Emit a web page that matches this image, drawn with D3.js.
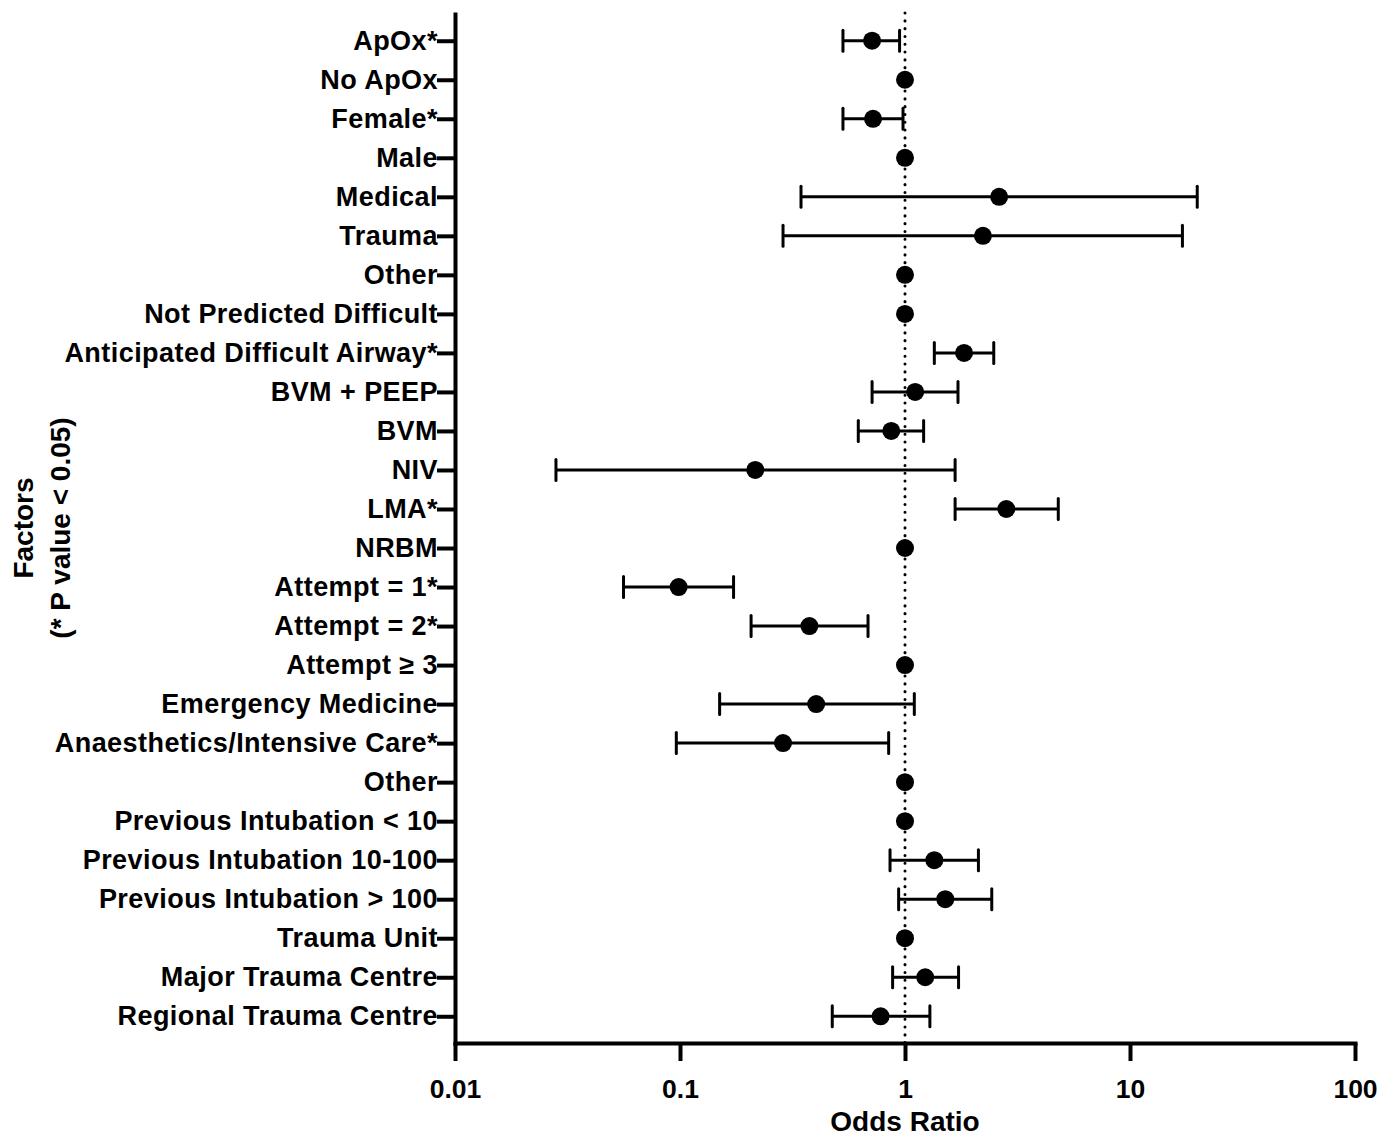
<!DOCTYPE html>
<html>
<head>
<meta charset="utf-8">
<script src="https://cdn.jsdelivr.net/npm/d3@7"></script>
<style>
  body { margin: 0; background: #fff; }
  text { font-family: "Liberation Sans", Arial, sans-serif; font-weight: bold; fill: #000; }
</style>
</head>
<body>
<svg id="chart"></svg>
<script>
const factors = [
    "ApOx*", "No ApOx", "Female*", "Male", "Medical", "Trauma", "Other",
    "Not Predicted Difficult", "Anticipated Difficult Airway*", "BVM + PEEP", "BVM",
    "NIV", "LMA*", "NRBM", "Attempt = 1*", "Attempt = 2*", "Attempt \u2265 3",
    "Emergency Medicine", "Anaesthetics/Intensive Care*", "Other",
    "Previous Intubation < 10", "Previous Intubation 10-100", "Previous Intubation > 100",
    "Trauma Unit", "Major Trauma Centre", "Regional Trauma Centre"
];
const oddsRatio = [
    0.714, 1, 0.721, 1, 2.62, 2.22, 1,
    1, 1.83, 1.11, 0.869,
    0.216, 2.82, 1, 0.0986, 0.376, 1,
    0.403, 0.287, 1,
    1, 1.35, 1.51,
    1, 1.23, 0.779
];
const ciLower = [
    0.530, null, 0.530, null, 0.345, 0.287, null,
    null, 1.35, 0.714, 0.620,
    0.0281, 1.67, null, 0.0561, 0.207, null,
    0.150, 0.0963, null,
    null, 0.858, 0.937,
    null, 0.881, 0.475
];
const ciUpper = [
    0.946, null, 0.98, null, 19.9, 17.1, null,
    null, 2.48, 1.72, 1.21,
    1.67, 4.80, null, 0.173, 0.685, null,
    1.10, 0.846, null,
    null, 2.12, 2.43,
    null, 1.73, 1.29
];
const xTicks = [0.01, 0.1, 1, 10, 100];
const xTickLabels = ["0.01", "0.1", "1", "10", "100"];

const margin = { top: 14, right: 23, bottom: 94, left: 455 };
const width = 1378 - margin.left - margin.right;
const height = 1137 - margin.top - margin.bottom;

const root = d3.select("#chart")
    .attr("width", 1378)
    .attr("height", 1137);

root.append("rect").attr("width", 1378).attr("height", 1137).attr("fill", "#fff");

const svg = root.append("g")
    .attr("transform", `translate(${margin.left}, ${margin.top})`);

const x = d3.scaleLog().domain([0.01, 100]).range([0, width]);
const y = d3.scalePoint()
    .domain(d3.range(factors.length))
    .range([0, height])
    .padding(0.685);

// reference line at OR = 1
svg.append("line")
    .attr("x1", x(1)).attr("x2", x(1))
    .attr("y1", -1).attr("y2", height)
    .attr("stroke", "#000")
    .attr("stroke-width", 3)
    .attr("stroke-linecap", "round")
    .attr("stroke-dasharray", "0.1,7.7");

// x axis
const xAxis = d3.axisBottom(x)
    .tickValues(xTicks)
    .tickFormat((d, i) => xTickLabels[i])
    .tickSize(18)
    .tickSizeOuter(0)
    .tickPadding(18);

const gx = svg.append("g")
    .attr("transform", `translate(0, ${height})`)
    .call(xAxis);
gx.select(".domain").attr("stroke-width", 4).attr("stroke-linecap", "square");
gx.selectAll(".tick line").attr("stroke-width", 4);
gx.selectAll(".tick text").style("font-size", "26.5px");

// y axis
const yAxis = d3.axisLeft(y)
    .tickFormat(i => factors[i])
    .tickSize(18)
    .tickSizeOuter(0)
    .tickPadding(-1);

const gy = svg.append("g").call(yAxis);
gy.select(".domain").attr("stroke-width", 4).attr("stroke-linecap", "square");
gy.selectAll(".tick line").attr("stroke-width", 4);
gy.selectAll(".tick text")
    .style("font-size", "27px")
    .style("letter-spacing", "0.45px");

// error bars
const rows = factors.map((f, i) => ({ i, or: oddsRatio[i], lo: ciLower[i], hi: ciUpper[i] }));
const withCI = rows.filter(d => d.lo !== null);
const capH = 10.5;

const bars = svg.selectAll(".ci")
    .data(withCI)
    .enter()
    .append("g")
    .attr("class", "ci")
    .attr("stroke", "#000")
    .attr("stroke-width", 3);

bars.append("line")
    .attr("x1", d => x(d.lo)).attr("x2", d => x(d.hi))
    .attr("y1", d => y(d.i)).attr("y2", d => y(d.i));
bars.append("line")
    .attr("x1", d => x(d.lo)).attr("x2", d => x(d.lo))
    .attr("y1", d => y(d.i) - capH).attr("y2", d => y(d.i) + capH)
    .attr("stroke-linecap", "round");
bars.append("line")
    .attr("x1", d => x(d.hi)).attr("x2", d => x(d.hi))
    .attr("y1", d => y(d.i) - capH).attr("y2", d => y(d.i) + capH)
    .attr("stroke-linecap", "round");

// points
svg.selectAll(".pt")
    .data(rows)
    .enter()
    .append("circle")
    .attr("class", "pt")
    .attr("cx", d => x(d.or))
    .attr("cy", d => y(d.i))
    .attr("r", 9)
    .attr("fill", "#000");

// axis titles
svg.append("text")
    .attr("x", width / 2)
    .attr("y", height + 88)
    .attr("text-anchor", "middle")
    .style("font-size", "28px")
    .text("Odds Ratio");

const yTitle = root.append("g")
    .attr("transform", "translate(0, 528) rotate(-90)")
    .attr("text-anchor", "middle")
    .style("font-size", "28px");
yTitle.append("text").attr("x", 0).attr("y", 33).text("Factors");
yTitle.append("text").attr("x", 0).attr("y", 70).text("(* P value < 0.05)");
</script>
</body>
</html>
